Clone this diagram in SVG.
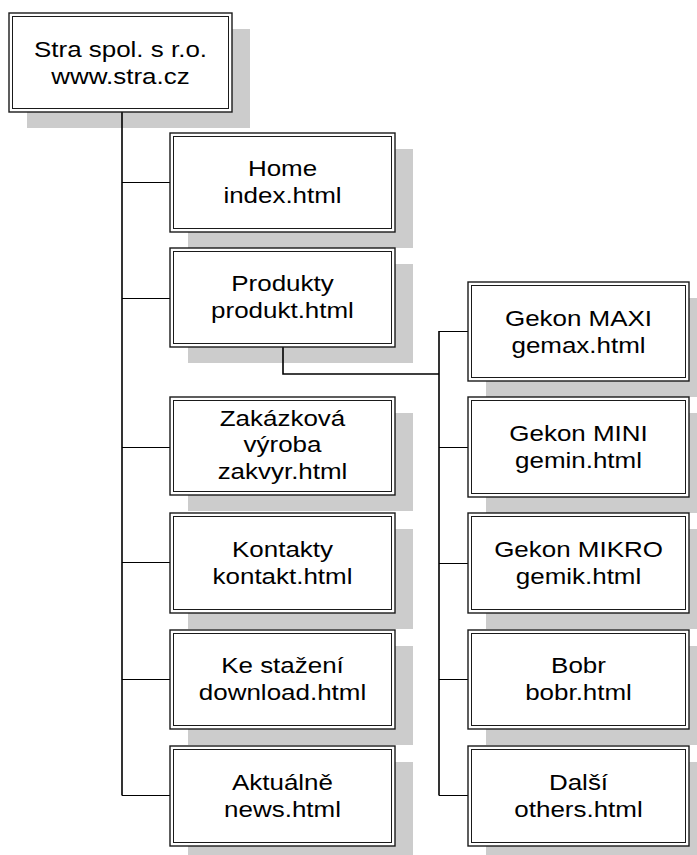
<svg xmlns="http://www.w3.org/2000/svg" width="697" height="855" viewBox="0 0 697 855">
<style>
.sh{fill:#cccccc}
.bo{fill:#ffffff;stroke:#1a1a1a;stroke-width:1.4}
.bi{fill:none;stroke:#1a1a1a;stroke-width:1}
.t{font-family:"Liberation Sans",Arial,sans-serif;font-size:22px;fill:#000;text-anchor:middle}
.c{fill:none;stroke:#000;stroke-width:1}
.ct{fill:none;stroke:#000;stroke-width:1.6}
</style>
<rect width="697" height="855" fill="#ffffff"/>
<g id="shadows">
<rect class="sh" x="27" y="29" width="223" height="99"/>
<rect class="sh" x="188" y="149" width="225" height="99"/>
<rect class="sh" x="188" y="264" width="225" height="99"/>
<rect class="sh" x="188" y="413" width="225" height="98"/>
<rect class="sh" x="188" y="529" width="225" height="100"/>
<rect class="sh" x="188" y="646" width="225" height="99"/>
<rect class="sh" x="188" y="762" width="225" height="100"/>
<rect class="sh" x="486" y="298" width="221" height="99"/>
<rect class="sh" x="486" y="413" width="221" height="100"/>
<rect class="sh" x="486" y="529" width="221" height="100"/>
<rect class="sh" x="486" y="646" width="221" height="99"/>
<rect class="sh" x="486" y="762" width="221" height="100"/>
</g>
<g id="connectors">
<line class="ct" x1="122" y1="112" x2="122" y2="795.5"/>
<line class="c" x1="122" y1="182.5" x2="170" y2="182.5"/>
<line class="c" x1="122" y1="298.5" x2="170" y2="298.5"/>
<line class="c" x1="122" y1="447.5" x2="170" y2="447.5"/>
<line class="c" x1="122" y1="562.5" x2="170" y2="562.5"/>
<line class="c" x1="122" y1="679.5" x2="170" y2="679.5"/>
<line class="c" x1="122" y1="795.5" x2="170" y2="795.5"/>
<polyline class="ct" points="283,347 283,374 439,374"/>
<line class="ct" x1="439" y1="331" x2="439" y2="795.5"/>
<line class="c" x1="439" y1="331.5" x2="468" y2="331.5"/>
<line class="c" x1="439" y1="447.5" x2="468" y2="447.5"/>
<line class="c" x1="439" y1="563.5" x2="468" y2="563.5"/>
<line class="c" x1="439" y1="679.5" x2="468" y2="679.5"/>
<line class="c" x1="439" y1="795.5" x2="468" y2="795.5"/>
</g>
<g id="root">
<rect class="bo" x="9" y="13" width="223" height="99"/>
<rect class="bi" x="12.5" y="16.5" width="216" height="92"/>
<text class="t" transform="translate(120.5,57) scale(1.18,1)"><tspan x="0">Stra spol. s r.o.</tspan><tspan x="0" dy="27">www.stra.cz</tspan></text>
</g>
<g id="home">
<rect class="bo" x="170" y="133" width="225" height="99"/>
<rect class="bi" x="173.5" y="136.5" width="218" height="92"/>
<text class="t" transform="translate(282.5,176) scale(1.18,1)"><tspan x="0">Home</tspan><tspan x="0" dy="27">index.html</tspan></text>
</g>
<g id="produkty">
<rect class="bo" x="170" y="248" width="225" height="99"/>
<rect class="bi" x="173.5" y="251.5" width="218" height="92"/>
<text class="t" transform="translate(282.5,291) scale(1.18,1)"><tspan x="0">Produkty</tspan><tspan x="0" dy="27">produkt.html</tspan></text>
</g>
<g id="zakazkova">
<rect class="bo" x="170" y="397" width="225" height="98"/>
<rect class="bi" x="173.5" y="400.5" width="218" height="91"/>
<text class="t" transform="translate(282.5,425.5) scale(1.18,1)"><tspan x="0">Zakázková</tspan><tspan x="0" dy="26.7">výroba</tspan><tspan x="0" dy="26.7">zakvyr.html</tspan></text>
</g>
<g id="kontakty">
<rect class="bo" x="170" y="513" width="225" height="100"/>
<rect class="bi" x="173.5" y="516.5" width="218" height="93"/>
<text class="t" transform="translate(282.5,557) scale(1.18,1)"><tspan x="0">Kontakty</tspan><tspan x="0" dy="27">kontakt.html</tspan></text>
</g>
<g id="kestazeni">
<rect class="bo" x="170" y="630" width="225" height="99"/>
<rect class="bi" x="173.5" y="633.5" width="218" height="92"/>
<text class="t" transform="translate(282.5,673) scale(1.18,1)"><tspan x="0">Ke stažení</tspan><tspan x="0" dy="27">download.html</tspan></text>
</g>
<g id="aktualne">
<rect class="bo" x="170" y="746" width="225" height="100"/>
<rect class="bi" x="173.5" y="749.5" width="218" height="93"/>
<text class="t" transform="translate(282.5,790) scale(1.18,1)"><tspan x="0">Aktuálně</tspan><tspan x="0" dy="27">news.html</tspan></text>
</g>
<g id="gekonmaxi">
<rect class="bo" x="468" y="282" width="221" height="99"/>
<rect class="bi" x="471.5" y="285.5" width="214" height="92"/>
<text class="t" transform="translate(578.5,326) scale(1.18,1)"><tspan x="0">Gekon MAXI</tspan><tspan x="0" dy="27">gemax.html</tspan></text>
</g>
<g id="gekonmini">
<rect class="bo" x="468" y="397" width="221" height="100"/>
<rect class="bi" x="471.5" y="400.5" width="214" height="93"/>
<text class="t" transform="translate(578.5,441) scale(1.18,1)"><tspan x="0">Gekon MINI</tspan><tspan x="0" dy="27">gemin.html</tspan></text>
</g>
<g id="gekonmikro">
<rect class="bo" x="468" y="513" width="221" height="100"/>
<rect class="bi" x="471.5" y="516.5" width="214" height="93"/>
<text class="t" transform="translate(578.5,557) scale(1.18,1)"><tspan x="0">Gekon MIKRO</tspan><tspan x="0" dy="27">gemik.html</tspan></text>
</g>
<g id="bobr">
<rect class="bo" x="468" y="630" width="221" height="99"/>
<rect class="bi" x="471.5" y="633.5" width="214" height="92"/>
<text class="t" transform="translate(578.5,673) scale(1.18,1)"><tspan x="0">Bobr</tspan><tspan x="0" dy="27">bobr.html</tspan></text>
</g>
<g id="dalsi">
<rect class="bo" x="468" y="746" width="221" height="100"/>
<rect class="bi" x="471.5" y="749.5" width="214" height="93"/>
<text class="t" transform="translate(578.5,790) scale(1.18,1)"><tspan x="0">Další</tspan><tspan x="0" dy="27">others.html</tspan></text>
</g>
</svg>
